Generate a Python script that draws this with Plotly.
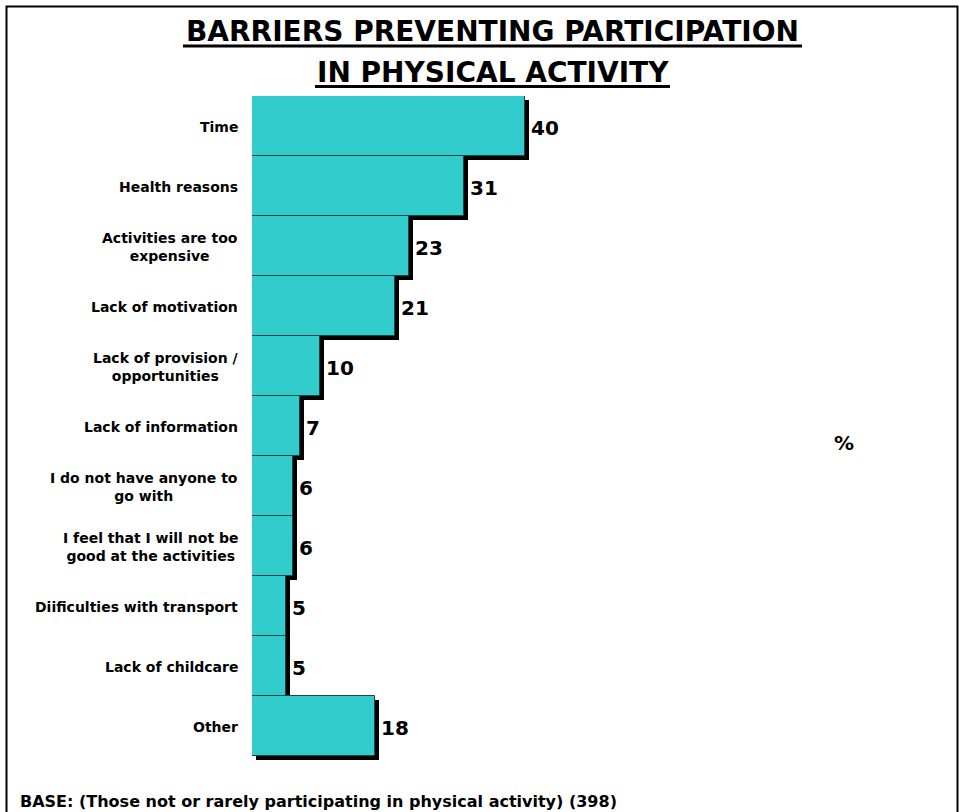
import plotly.graph_objects as go

# Survey results: barriers to taking part in physical activity (%)
categories = [
    "Time",
    "Health reasons",
    "Activities are too<br>expensive",
    "Lack of motivation",
    "Lack of provision /<br>opportunities",
    "Lack of information",
    "I do not have anyone to<br>go with",
    "I feel that I will not be<br>good at the activities",
    "Diificulties with transport",
    "Lack of childcare",
    "Other",
]
values = [40, 31, 23, 21, 10, 7, 6, 6, 5, 5, 18]

W, H = 959, 812
BAR_COLOR = "#33CCCC"
FONT = "DejaVu Sans"

# plot area in pixels
x_left, x_right = 252, 934.5
y_top, y_bottom = 96, 756
x_max = 100
px_per_unit = (x_right - x_left) / x_max
band_px = (y_bottom - y_top) / len(categories)

shadow_px = 4
dx = shadow_px / px_per_unit
dy = shadow_px / band_px

pos = list(range(len(categories)))
n = len(categories)

fig = go.Figure()

# drop shadow behind each bar
fig.add_trace(go.Bar(
    x=values, y=[p + dy for p in pos], base=dx, orientation="h",
    width=1, marker=dict(color="black", line=dict(width=0)),
    hoverinfo="skip", showlegend=False,
))
# main bars
fig.add_trace(go.Bar(
    x=values, y=pos, orientation="h", width=1,
    marker=dict(color=BAR_COLOR, line=dict(color="#1e4646", width=1)),
    showlegend=False,
))

annotations = []
for p, (c, v) in enumerate(zip(categories, values)):
    annotations.append(dict(
        x=v, y=p, xref="x", yref="y", text=f"<b>{v}</b>",
        xanchor="left", yanchor="middle", xshift=4, yshift=-2,
        showarrow=False,
        font=dict(family=FONT, size=20, color="black"),
    ))
    annotations.append(dict(
        x=(x_left - 12) / W, y=p, xref="paper", yref="y", text=f"<b>{c}</b>",
        xanchor="right", yanchor="middle", align="center", showarrow=False,
        yshift=-1,
        font=dict(family=FONT, size=14, color="black"),
    ))

# title lines
title_font = dict(family=FONT, size=28, color="black")
annotations.append(dict(
    x=492.5 / W, y=1 - 32 / H, xref="paper", yref="paper",
    text="<b>BARRIERS PREVENTING PARTICIPATION</b>",
    xanchor="center", yanchor="middle", showarrow=False, font=title_font,
))
annotations.append(dict(
    x=492.5 / W, y=1 - 72 / H, xref="paper", yref="paper",
    text="<b>IN PHYSICAL ACTIVITY</b>",
    xanchor="center", yanchor="middle", showarrow=False, font=title_font,
))
# unit marker
annotations.append(dict(
    x=843.5 / W, y=1 - 443 / H, xref="paper", yref="paper",
    text="<b>%</b>", xanchor="center", yanchor="middle", showarrow=False,
    font=dict(family=FONT, size=20, color="black"),
))
# base note
annotations.append(dict(
    x=18 / W, y=1 - 801 / H, xref="paper", yref="paper",
    text="<b>BASE: (Those not or rarely participating in physical activity) (398)</b>",
    xanchor="left", yanchor="middle", showarrow=False,
    font=dict(family=FONT, size=16, color="black"),
))


def hline(x0, x1, y, width):
    return dict(type="line", xref="paper", yref="paper",
                x0=x0 / W, x1=x1 / W, y0=1 - y / H, y1=1 - y / H,
                line=dict(color="black", width=width))


shapes = [
    # outer frame
    dict(type="rect", xref="paper", yref="paper",
         x0=6.5 / W, x1=957.5 / W, y0=-0.01, y1=1 - 6.5 / H,
         line=dict(color="black", width=2), layer="below"),
    # title underlines
    hline(183, 802, 46, 3),
    hline(315, 670, 86.5, 3),
]

fig.update_layout(
    width=W, height=H,
    margin=dict(l=0, r=0, t=0, b=0),
    paper_bgcolor="white", plot_bgcolor="white",
    barmode="overlay", bargap=0,
    xaxis=dict(range=[0, x_max], domain=[x_left / W, x_right / W],
               visible=False, fixedrange=True),
    yaxis=dict(range=[n - 0.5 + dy, -0.5],
               domain=[1 - (y_bottom + shadow_px) / H, 1 - y_top / H],
               visible=False, fixedrange=True),
    annotations=annotations,
    shapes=shapes,
)

fig.write_html("out.html")
